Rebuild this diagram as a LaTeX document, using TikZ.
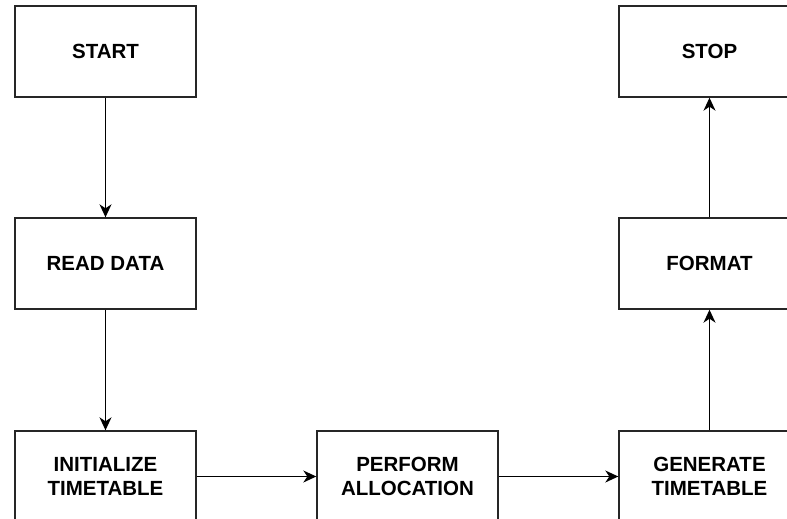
\documentclass[tikz,border=0pt]{standalone}
\usepackage{fontspec}
\setmainfont{Liberation Sans}
\usetikzlibrary{arrows.meta}
\begin{document}
\begin{tikzpicture}[x=1pt,y=-1pt,
  stepbox/.style={draw=black!85, line width=1.4pt, fill=white,
    minimum width=181pt, minimum height=91pt, inner sep=0pt,
    align=center, font=\fontsize{20.5}{23.5}\selectfont\bfseries},
  flow/.style={draw=black, line width=1.3pt,
    -{Stealth[length=13pt,width=12pt,inset=4pt]}}]
  \clip (0,0) rectangle (787,519);
  \useasboundingbox (0,0) rectangle (787,519);
  % left column
  \node[stepbox] (start) at (105.5,51.5) {START};
  \node[stepbox] (read)  at (105.5,263.5) {READ DATA};
  \node[stepbox] (init)  at (105.5,476.5) {INITIALIZE\\TIMETABLE};
  % middle
  \node[stepbox] (alloc) at (407.5,476.5) {PERFORM\\ALLOCATION};
  % right column
  \node[stepbox] (gen)    at (709.5,476.5) {GENERATE\\TIMETABLE};
  \node[stepbox] (format) at (709.5,263.5) {FORMAT};
  \node[stepbox] (stop)   at (709.5,51.5) {STOP};
  % connectors
  \draw[flow] (start) -- (read);
  \draw[flow] (read) -- (init);
  \draw[flow] (init) -- (alloc);
  \draw[flow] (alloc) -- (gen);
  \draw[flow] (gen) -- (format);
  \draw[flow] (format) -- (stop);
\end{tikzpicture}
\end{document}
